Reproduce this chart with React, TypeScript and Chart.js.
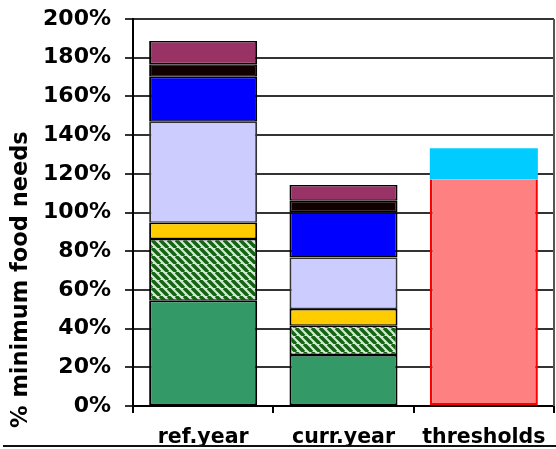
import React, { useEffect, useRef } from "react";
import { Chart, registerables } from "chart.js";

Chart.register(...registerables);

const categories = ["ref.year", "curr.year", "thresholds"];
const staple = [54.4, 26.4, null];
const stapleHatched = [31.9, 15.1, null];
const yellowPart = [8.4, 8.6, null];
const lavenderPart = [52.2, 26.7, null];
const bluePart = [23.3, 23.3, null];
const blackPart = [6.4, 6.0, null];
const maroonPart = [12.0, 8.1, null];
const thresholdLow = [null, null, 117];
const thresholdHigh = [null, null, 16.2];
const yTicks = [0, 20, 40, 60, 80, 100, 120, 140, 160, 180, 200];
const yTitle = "% minimum food needs";

const FONT = "'DejaVu Sans', 'Liberation Sans', sans-serif";

function makeHatch(ctx: CanvasRenderingContext2D): CanvasPattern | string {
  const c = document.createElement("canvas");
  c.width = 8;
  c.height = 8;
  const g = c.getContext("2d");
  if (!g) return "#1a661a";
  g.fillStyle = "#d6ead6";
  g.fillRect(0, 0, 8, 8);
  g.strokeStyle = "#146414";
  g.lineWidth = 3.5;
  for (const k of [-8, 0, 8]) {
    g.beginPath();
    g.moveTo(k, 0);
    g.lineTo(k + 8, 8);
    g.stroke();
  }
  return ctx.createPattern(c, "repeat") || "#1a661a";
}

export default function App() {
  const ref = useRef<HTMLCanvasElement | null>(null);

  useEffect(() => {
    const canvas = ref.current;
    if (!canvas) return;
    const ctx = canvas.getContext("2d");
    if (!ctx) return;
    const hatch = makeHatch(ctx);

    const seg = (label: string, data: (number | null)[], bg: any, border = "#000") => ({
      label,
      data,
      backgroundColor: bg,
      borderColor: border,
      borderWidth: { top: 1.5, bottom: 1.5, left: 2, right: 2 },
      borderSkipped: false as const,
    });

    const frame = {
      id: "frame",
      afterDraw(chart: any) {
        const c = chart.ctx;
        const a = chart.chartArea;
        c.save();
        c.strokeStyle = "#555";
        c.lineWidth = 2;
        c.beginPath();
        c.moveTo(a.right, a.top);
        c.lineTo(a.right, a.bottom);
        c.stroke();
        c.strokeStyle = "#111";
        c.beginPath();
        c.moveTo(3, chart.height - 3);
        c.lineTo(chart.width, chart.height - 3);
        c.stroke();
        // y title
        c.translate(21, a.bottom + 22);
        c.rotate(-Math.PI / 2);
        c.fillStyle = "#000";
        c.font = `bold 22.5px ${FONT}`;
        c.textAlign = "left";
        c.textBaseline = "middle";
        c.fillText(yTitle, 0, 0);
        c.restore();
      },
    };

    const chart = new Chart(ctx, {
      type: "bar",
      data: {
        labels: categories,
        datasets: [
          seg("staple", staple, "#339966"),
          seg("staple2", stapleHatched, hatch),
          seg("yellow", yellowPart, "#FFCC00"),
          seg("lavender", lavenderPart, "#CCCCFF", "#333"),
          seg("blue", bluePart, "#0000FF"),
          seg("black", blackPart, "#100000"),
          seg("maroon", maroonPart, "#993366"),
          {
            label: "threshold low",
            data: thresholdLow,
            backgroundColor: "#FF8080",
            borderColor: "#FF0000",
            borderWidth: { left: 2.5, right: 2.5, bottom: 2, top: 0 },
            borderSkipped: false,
          },
          {
            label: "threshold high",
            data: thresholdHigh,
            backgroundColor: "#00CCFF",
            borderWidth: 0,
          },
        ],
      },
      options: {
        responsive: false,
        animation: false,
        layout: { padding: { top: 19, right: 2, left: 0, bottom: 0 } },
        plugins: { legend: { display: false }, tooltip: { enabled: false } },
        datasets: { bar: { barPercentage: 0.77, categoryPercentage: 1 } },
        scales: {
          x: {
            stacked: true,
            offset: true,
            grid: {
              offset: true,
              drawOnChartArea: false,
              drawTicks: true,
              tickLength: 7,
              color: "#000",
              lineWidth: 2,
            },
            border: { display: true, color: "#000", width: 2 },
            ticks: {
              color: "#000",
              padding: 12,
              font: { family: FONT, size: 20.5, weight: "bold" },
            },
            afterFit: (s: any) => {
              s.height = 43;
              s.paddingLeft = 0;
              s.paddingRight = 0;
            },
          },
          y: {
            stacked: true,
            min: 0,
            max: 200,
            afterBuildTicks: (s: any) => {
              s.ticks = yTicks.map((v) => ({ value: v }));
            },
            grid: { color: "#333", lineWidth: 2, tickLength: 8 },
            border: { display: true, color: "#000", width: 2 },
            ticks: {
              color: "#000",
              padding: 14,
              font: { family: FONT, size: 22, weight: "bold" },
              callback: (v: any) => `${v}%`,
            },
            afterFit: (s: any) => {
              s.width = 133;
              s.paddingTop = 0;
              s.paddingBottom = 0;
            },
          },
        },
      },
      plugins: [frame],
    });
    return () => chart.destroy();
  }, []);

  return (
    <div style={{ position: "absolute", left: 0, top: 0, width: 556, height: 449 }}>
      <canvas ref={ref} width={556} height={449} style={{ display: "block" }} />
    </div>
  );
}
